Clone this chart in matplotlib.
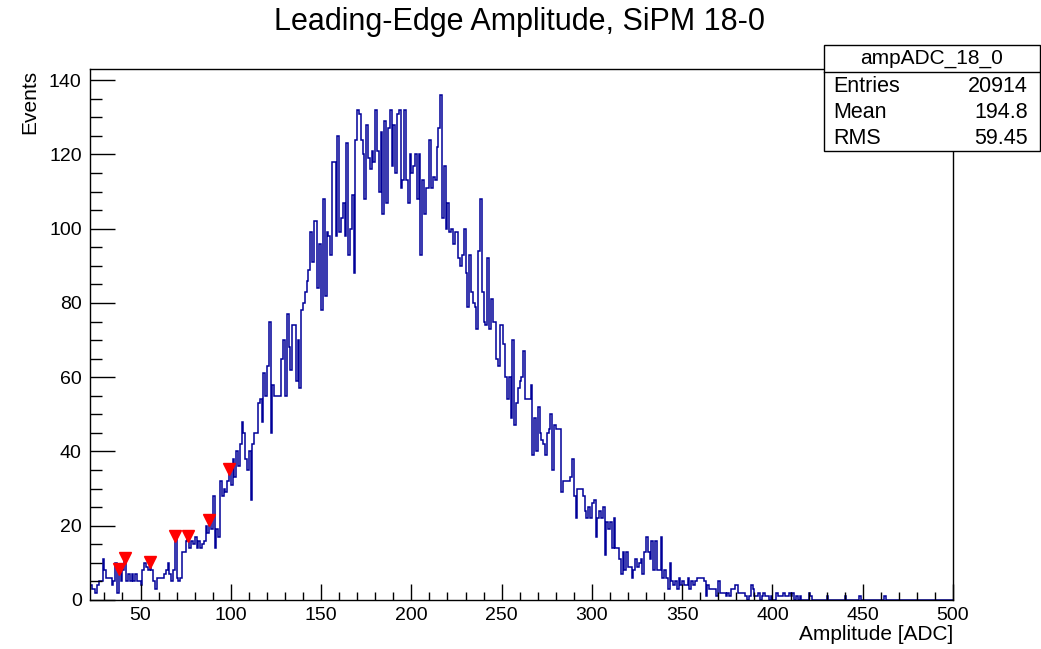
import matplotlib
matplotlib.use("Agg")
import matplotlib.pyplot as plt
import numpy as np
from matplotlib.ticker import MultipleLocator
from matplotlib.patches import Rectangle
from matplotlib.lines import Line2D

plt.rcParams['font.family'] = ['Liberation Sans', 'DejaVu Sans']

# histogram: one bin per ADC count, first bin starts at 22
x_start = 22
counts = [
    4, 3, 3, 2, 4, 5, 5, 11,                      # 22-29
    8, 6, 6, 6, 4, 5, 10, 2, 8, 5,                # 30-39
    8, 11, 5, 7, 5, 7, 5, 7, 5, 5,
    4, 8, 10, 9, 8, 10, 8, 5, 3, 6,
    6, 6, 6, 7, 8, 10, 7, 5, 8, 18,
    6, 5, 6, 13, 13, 16, 17, 14, 16, 15,          # 70-79
    17, 14, 16, 14, 15, 16, 20, 18, 22, 19,
    28, 14, 19, 17, 32, 28, 30, 29, 32, 35,
    31, 38, 33, 40, 36, 42, 48, 45, 38, 35,       # 100-109
    40, 27, 42, 45, 45, 53, 54, 48, 61, 55,
    63, 75, 45, 58, 55, 55, 55, 55, 65, 70,
    55, 77, 68, 62, 74, 74, 59, 70, 57, 78,
    80, 83, 86, 89, 99, 91, 102, 102, 84, 96,
    78, 108, 82, 99, 98, 93, 118, 118, 98, 125,   # 150-159
    99, 103, 107, 98, 123, 93, 100, 109, 88, 124,
    132, 131, 124, 120, 108, 128, 119, 116, 121, 118,
    132, 121, 110, 126, 104, 129, 107, 127, 132, 117,
    128, 115, 131, 132, 111, 113, 132, 113, 107, 120,
    115, 117, 120, 108, 120, 93, 113, 104, 111, 111,  # 200-209
    124, 111, 114, 113, 122, 127, 136, 103, 117, 100,
    107, 99, 100, 96, 99, 99, 92, 90, 93, 100,
    88, 79, 93, 83, 80, 79, 73, 94, 108, 83,
    75, 74, 92, 73, 81, 75, 75, 65, 63, 74,
    74, 69, 60, 54, 60, 49, 70, 47, 53, 57,       # 250-259
    59, 60, 67, 54, 54, 54, 58, 39, 49, 40,
    52, 45, 43, 42, 39, 45, 46, 50, 35, 47,
    46, 46, 46, 29, 32, 32, 32, 32, 33, 38,
    28, 22, 30, 30, 30, 28, 24, 22, 25, 22,
    26, 27, 17, 22, 24, 22, 25, 12, 21, 19,       # 300-309
    21, 14, 22, 14, 14, 11, 7, 13, 8, 13,
    9, 9, 6, 8, 11, 9, 10, 11, 7, 13,
    17, 13, 11, 16, 8, 16, 8, 8, 17, 6,
    8, 6, 3, 10, 5, 4, 5, 3, 6, 4,
    5, 4, 4, 6, 3, 5, 4, 5, 6, 6,                 # 350-359
    6, 6, 5, 1, 4, 3, 3, 3, 3, 1,
    5, 2, 2, 2, 1, 2, 1, 3, 3, 4,
    4, 2, 2, 2, 2, 1, 0, 1, 4, 3,
    1, 1, 2, 0, 1, 2, 1, 1, 0, 1,
    0, 0, 2, 1, 1, 1, 2, 1, 1, 2,                 # 400-409
    1, 2, 0, 1, 0, 1,                             # 410-415
]
# sparse tail beyond 415
tail_x = [420, 421, 430, 440, 448, 462]
tail_counts = [2, 1, 1, 1, 1, 1]
x_end = 500

# peaks found (red markers)
peak_x = [38.0, 41.3, 55.4, 69.2, 76.4, 88.1, 99.2]
peak_y = [8.3, 11.3, 10.2, 17.2, 17.2, 21.5, 35.3]

stats_name = "ampADC_18_0"
stats_rows = [("Entries", "20914"), ("Mean", "194.8"), ("RMS", "59.45")]

full = np.zeros(x_end - x_start)
full[:len(counts)] = counts
for tx, tc in zip(tail_x, tail_counts):
    full[tx - x_start] = tc
edges = np.arange(x_start, x_end + 1)

W, H = 1041, 649
fig = plt.figure(figsize=(W / 100, H / 100), dpi=100)
ax = fig.add_axes([90 / W, 1 - 600 / H, (953 - 90) / W, (600 - 69) / H])

ax.stairs(full, edges, color='#000099', lw=1.1, baseline=None)
ax.plot(peak_x, peak_y, 'v', color='red', ms=9, mec='red')

ax.set_xlim(x_start, x_end)
ax.set_ylim(0, 143)
ax.xaxis.set_major_locator(MultipleLocator(50))
ax.xaxis.set_minor_locator(MultipleLocator(10))
ax.yaxis.set_major_locator(MultipleLocator(20))
ax.yaxis.set_minor_locator(MultipleLocator(5))
ax.tick_params(axis='both', which='both', direction='in', labelsize=14, width=1)
ax.tick_params(axis='x', which='major', length=11.5, pad=5)
ax.tick_params(axis='x', which='minor', length=5.8)
ax.tick_params(axis='y', which='major', length=18, pad=6)
ax.tick_params(axis='y', which='minor', length=8.6)
for s in ax.spines.values():
    s.set_linewidth(1.0)

fig.text(0.4995, 1 - 22 / H, "Leading-Edge Amplitude, SiPM 18-0", ha='center', va='center', fontsize=22)
fig.text(953 / W, 1 - 634 / H, "Amplitude [ADC]", ha='right', va='center', fontsize=15)
fig.text(30 / W, 1 - 70 / H, "Events", ha='center', va='top', rotation=90, fontsize=15)

# stats box
bx0, bx1, by0, by1, bsep = 824, 1040, 45, 151, 72
fig.add_artist(Rectangle((bx0 / W, 1 - by1 / H), (bx1 - bx0) / W, (by1 - by0) / H,
                         transform=fig.transFigure, facecolor='white', edgecolor='black', lw=1.0, zorder=5))
fig.add_artist(Line2D([bx0 / W, bx1 / W], [1 - bsep / H, 1 - bsep / H],
                      transform=fig.transFigure, color='black', lw=1.0, zorder=6))
fig.text((bx0 + bx1) / 2 / W, 1 - 58.5 / H, stats_name, ha='center', va='center', fontsize=15, zorder=7)
for i, (lab, val) in enumerate(stats_rows):
    yy = 1 - (86 + 26 * i) / H
    fig.text(833 / W, yy, lab, ha='left', va='center', fontsize=15.5, zorder=7)
    fig.text(1028 / W, yy, val, ha='right', va='center', fontsize=15.5, zorder=7)

fig.savefig("out.png", dpi=100)
